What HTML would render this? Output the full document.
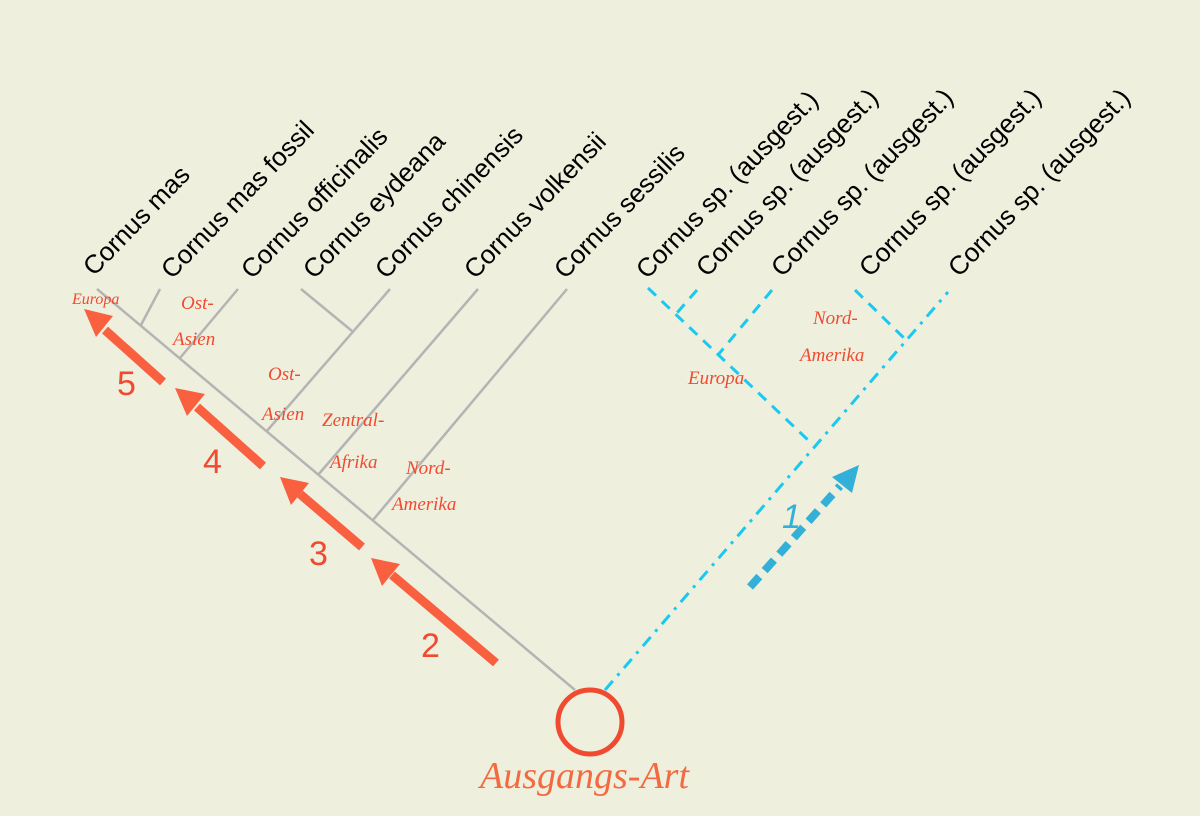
<!DOCTYPE html>
<html><head><meta charset="utf-8"><style>
html,body{margin:0;padding:0;background:#efefdd;}
svg{display:block}
.lbl{font-family:"Liberation Sans",sans-serif;font-size:26px;fill:#000;}
.hw{font-family:"URW Chancery L","Liberation Serif",serif;font-style:italic;fill:#f04a30;font-size:19px;}
.num{font-family:"Liberation Sans",sans-serif;fill:#f04a30;font-size:34px;}
</style></head><body>
<svg width="1200" height="816" viewBox="0 0 1200 816" xmlns="http://www.w3.org/2000/svg">
<rect width="1200" height="816" fill="#efefdd"/>
<g class="lbl">
<text transform="translate(94,277) rotate(-46)">Cornus mas</text>
<text transform="translate(172,280) rotate(-46)">Cornus mas fossil</text>
<text transform="translate(252,280) rotate(-46)">Cornus officinalis</text>
<text transform="translate(314,280) rotate(-46)">Cornus eydeana</text>
<text transform="translate(386,280) rotate(-46)">Cornus chinensis</text>
<text transform="translate(475,280) rotate(-46)">Cornus volkensii</text>
<text transform="translate(565,280) rotate(-46)">Cornus sessilis</text>
<text transform="translate(647,280) rotate(-46)">Cornus sp. (ausgest.)</text>
<text transform="translate(707,278) rotate(-46)">Cornus sp. (ausgest.)</text>
<text transform="translate(782,278) rotate(-46)">Cornus sp. (ausgest.)</text>
<text transform="translate(870,278) rotate(-46)">Cornus sp. (ausgest.)</text>
<text transform="translate(959,278) rotate(-46)">Cornus sp. (ausgest.)</text>
</g>
<g stroke="#b4b4b4" stroke-width="2.5" fill="none">
<line x1="97" y1="289" x2="575" y2="690"/>
<line x1="160" y1="289" x2="141" y2="325"/>
<line x1="238" y1="289" x2="180" y2="358"/>
<line x1="301" y1="289" x2="352" y2="331"/>
<line x1="390" y1="289" x2="266" y2="432"/>
<line x1="478" y1="289" x2="318" y2="475"/>
<line x1="567" y1="289" x2="373" y2="520"/>
</g>
<g stroke="#1ac8f0" stroke-width="3" fill="none" stroke-dasharray="11,8">
<line x1="648" y1="288" x2="808" y2="440"/>
<line x1="697" y1="290" x2="676" y2="314"/>
<line x1="772" y1="290" x2="718" y2="355"/>
<line x1="855" y1="290" x2="906" y2="340"/>
</g>
<line x1="605" y1="690" x2="948" y2="292" stroke="#1ac8f0" stroke-width="3" stroke-dasharray="12,7,3,7"/>
<g stroke="#f86040" stroke-width="9" fill="#f86040">
<line x1="163" y1="382" x2="105" y2="330"/>
<line x1="263" y1="466" x2="197" y2="407"/>
<line x1="362" y1="547" x2="300" y2="494"/>
<line x1="496" y1="663" x2="392" y2="575"/>
</g>
<g fill="#f86040">
<polygon points="84,309 113,316 96,337"/>
<polygon points="175,388 205,394 187,416"/>
<polygon points="280,477 309,483 291,505"/>
<polygon points="371,558 400,564 382,586"/>
</g>
<line x1="750" y1="587" x2="840" y2="486" stroke="#33b0d8" stroke-width="8" stroke-dasharray="14,8"/>
<polygon points="859,465 852,493 832,477" fill="#33b0d8"/>
<g class="num">
<text x="117" y="395">5</text>
<text x="203" y="473">4</text>
<text x="309" y="565">3</text>
<text x="421" y="657">2</text>
</g>
<text x="782" y="528" class="num" style="fill:#33b0d8;font-style:italic">1</text>
<g class="hw">
<text x="72" y="304" font-size="16">Europa</text>
<text x="181" y="309">Ost-</text><text x="173" y="345">Asien</text>
<text x="268" y="380">Ost-</text><text x="262" y="420">Asien</text>
<text x="322" y="426">Zentral-</text><text x="330" y="468">Afrika</text>
<text x="406" y="474">Nord-</text><text x="392" y="510">Amerika</text>
<text x="688" y="384">Europa</text>
<text x="813" y="324">Nord-</text><text x="800" y="361">Amerika</text>
</g>
<circle cx="590" cy="722" r="32" fill="none" stroke="#f04a30" stroke-width="5"/>
<text x="480" y="788" class="hw" style="font-size:38px;fill:#f46a40">Ausgangs-Art</text>
</svg>
</body></html>
